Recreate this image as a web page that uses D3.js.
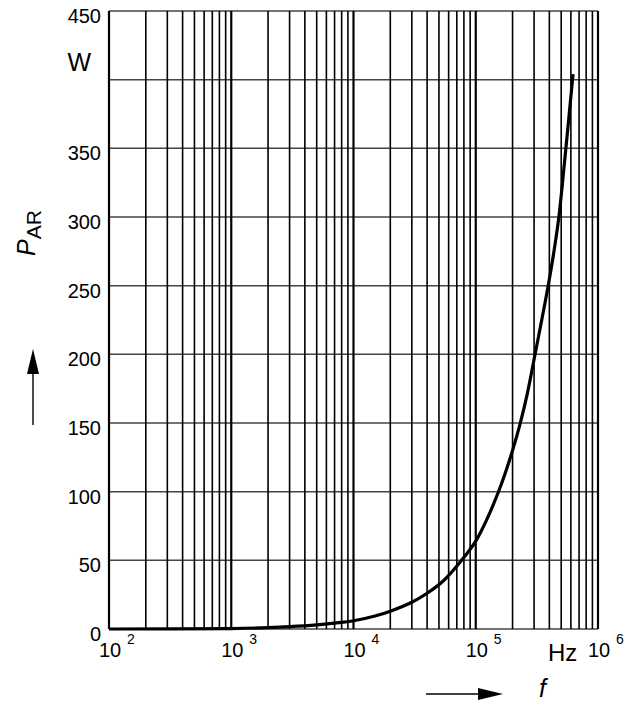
<!DOCTYPE html>
<html>
<head>
<meta charset="utf-8">
<script src="https://cdn.jsdelivr.net/npm/d3@7"></script>
<style>
  body { margin: 0; background: #fff; }
  text { font-family: "Liberation Sans", Arial, sans-serif; fill: #000; }
</style>
</head>
<body>
<div id="chart"></div>
<script>
// curve: frequency (Hz) vs power (W)
var freq  = [100, 1000, 2000, 3000, 5000, 7000, 10000, 15000, 20000, 30000, 40000, 55000, 76600, 100000,
             125000, 152000, 175000, 200000, 230000, 265000, 304000, 350000, 395000, 440000, 480000, 546000, 625000];
var power = [0, 0.3, 1, 1.7, 3, 4.3, 6, 9.5, 13, 19.5, 26, 35.5, 50, 64,
             81, 99, 114, 130, 149, 172, 199, 227, 252, 277, 301, 350, 404];

var yTicks = [0, 50, 100, 150, 200, 250, 300, 350, 450];
var yGrid = [0, 50, 100, 150, 200, 250, 300, 350, 400, 450];
var decades = [2, 3, 4, 5, 6];

var width = 639, height = 704;
var plotLeft = 109, plotRight = 598, plotTop = 11, plotBottom = 629;

var svg = d3.select("#chart").append("svg")
    .attr("width", width)
    .attr("height", height);

var x = d3.scaleLog().domain([1e2, 1e6]).range([plotLeft, plotRight]);
var y = d3.scaleLinear().domain([0, 450]).range([plotBottom, plotTop]);

// vertical grid, 1..9 per decade
var vLines = [];
decades.forEach(function(d) {
    for (var m = 1; m <= 9; m++) {
        if (d === 6 && m > 1) break;
        vLines.push({ v: m * Math.pow(10, d), major: m === 1 });
    }
});

svg.selectAll(".hgrid")
    .data(yGrid)
    .join("line")
    .attr("class", "hgrid")
    .attr("x1", plotLeft)
    .attr("x2", plotRight)
    .attr("y1", d => y(d))
    .attr("y2", d => y(d))
    .style("stroke", "#444")
    .style("stroke-width", 1.5);

svg.selectAll(".vgrid")
    .data(vLines)
    .join("line")
    .attr("class", "vgrid")
    .attr("x1", d => x(d.v))
    .attr("x2", d => x(d.v))
    .attr("y1", plotTop)
    .attr("y2", plotBottom)
    .style("stroke", "#000")
    .style("stroke-width", d => d.major ? 2.2 : 1.6);

// y tick labels
svg.selectAll(".ylab")
    .data(yTicks)
    .join("text")
    .attr("class", "ylab")
    .attr("x", 101)
    .attr("y", d => y(d) + 12)
    .attr("text-anchor", "end")
    .style("font-size", "20px")
    .text(d => d);

svg.append("text")
    .attr("x", 91)
    .attr("y", 71)
    .attr("text-anchor", "end")
    .style("font-size", "25px")
    .text("W");

// x tick labels: 10 with superscript exponent
var xl = svg.selectAll(".xlab")
    .data(decades)
    .join("g")
    .attr("class", "xlab")
    .attr("transform", d => "translate(" + (x(Math.pow(10, d)) - 10) + ",0)");

xl.append("text")
    .attr("x", 0)
    .attr("y", 657)
    .style("font-size", "20px")
    .text("10");

xl.append("text")
    .attr("x", 28)
    .attr("y", 644)
    .style("font-size", "14px")
    .text(d => d);

svg.append("text")
    .attr("x", 548)
    .attr("y", 661)
    .style("font-size", "24px")
    .text("Hz");

// the curve
var pts = freq.map((f, i) => [f, power[i]]);
var line = d3.line()
    .x(d => x(d[0]))
    .y(d => y(d[1]))
    .curve(d3.curveCatmullRom.alpha(0.5));

svg.append("path")
    .datum(pts)
    .attr("d", line)
    .style("fill", "none")
    .style("stroke", "#000")
    .style("stroke-width", 3.2);

// axis arrows and names
svg.append("line")
    .attr("x1", 426).attr("x2", 482)
    .attr("y1", 694).attr("y2", 694)
    .style("stroke", "#000").style("stroke-width", 1.4);
svg.append("path")
    .attr("d", "M478,688 L503,694 L478,700 Z")
    .style("fill", "#000");

svg.append("text")
    .attr("x", 539)
    .attr("y", 697)
    .style("font-size", "25px")
    .style("font-style", "italic")
    .text("f");

svg.append("line")
    .attr("x1", 33).attr("x2", 33)
    .attr("y1", 425).attr("y2", 370)
    .style("stroke", "#000").style("stroke-width", 1.4);
svg.append("path")
    .attr("d", "M27,374 L33,349 L39,374 Z")
    .style("fill", "#000");

var ylab = svg.append("text")
    .attr("transform", "translate(35,256) rotate(-90)")
    .style("font-size", "25px");
ylab.append("tspan")
    .style("font-style", "italic")
    .text("P");
ylab.append("tspan")
    .attr("dy", 6)
    .style("font-size", "21px")
    .text("AR");
</script>
</body>
</html>
